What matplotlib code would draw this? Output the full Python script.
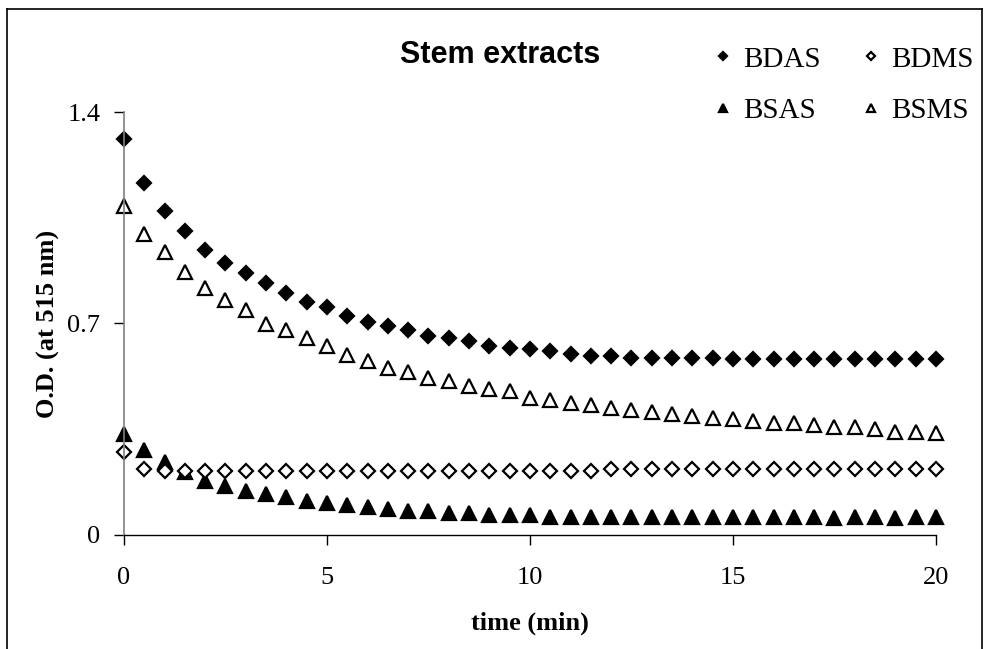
import numpy as np
import matplotlib
matplotlib.use("Agg")
import matplotlib.pyplot as plt
from matplotlib.lines import Line2D

# tiempo en minutos, cada 0.5 min
tiempo = np.arange(0, 20.5, 0.5)

bdas = [1.31, 1.166, 1.073, 1.007, 0.944, 0.901, 0.868, 0.834, 0.801, 0.772,
        0.755, 0.725, 0.705, 0.692, 0.679, 0.659, 0.653, 0.642, 0.627, 0.620,
        0.614, 0.609, 0.598, 0.594, 0.594, 0.587, 0.587, 0.587, 0.586, 0.586,
        0.582, 0.582, 0.582, 0.582, 0.582, 0.582, 0.582, 0.582, 0.582, 0.582, 0.582]
bdms = [0.276, 0.217, 0.212, 0.212, 0.212, 0.212, 0.212, 0.212, 0.212, 0.212,
        0.212, 0.212, 0.212, 0.212, 0.212, 0.212, 0.212, 0.212, 0.212, 0.212,
        0.212, 0.212, 0.212, 0.212, 0.217, 0.217, 0.217, 0.217, 0.217, 0.217,
        0.217, 0.217, 0.217, 0.217, 0.217, 0.217, 0.217, 0.217, 0.217, 0.217, 0.217]
bsas = [0.334, 0.281, 0.240, 0.207, 0.180, 0.163, 0.147, 0.136, 0.125, 0.114,
        0.107, 0.099, 0.094, 0.085, 0.079, 0.079, 0.072, 0.072, 0.066, 0.066,
        0.066, 0.061, 0.059, 0.059, 0.061, 0.061, 0.061, 0.061, 0.061, 0.061,
        0.061, 0.061, 0.061, 0.061, 0.061, 0.055, 0.061, 0.061, 0.055, 0.061, 0.061]
bsms = [1.089, 0.996, 0.936, 0.870, 0.817, 0.778, 0.745, 0.699, 0.677, 0.653,
        0.626, 0.596, 0.576, 0.553, 0.541, 0.521, 0.508, 0.493, 0.482, 0.475,
        0.455, 0.447, 0.436, 0.429, 0.420, 0.414, 0.407, 0.402, 0.395, 0.388,
        0.383, 0.377, 0.370, 0.370, 0.364, 0.359, 0.357, 0.350, 0.342, 0.342, 0.337]

# orden por columnas para que la leyenda quede: BDAS BDMS / BSAS BSMS
series = [
    ("BDAS", bdas, "D", "black", 7.5),
    ("BSAS", bsas, "^", "black", 10),
    ("BDMS", bdms, "D", "white", 7.5),
    ("BSMS", bsms, "^", "white", 10),
]

fig = plt.figure(figsize=(9.92, 6.49), dpi=100)
ax = fig.add_axes([0.125, 0.1757, 0.8185, 0.6517])

for nombre, valores, marca, relleno, tam in series:
    ax.plot(tiempo, valores, linestyle="none", marker=marca, markersize=tam,
            markerfacecolor=relleno, markeredgecolor="black", markeredgewidth=1.6,
            label=nombre, clip_on=False)

ax.set_xlim(0, 20)
ax.set_ylim(0, 1.4)
ax.set_xticks([0, 5, 10, 15, 20])
ax.set_yticks([0, 0.7, 1.4])
ax.set_yticklabels(["0", "0.7", "1.4"])
ax.spines["top"].set_visible(False)
ax.spines["right"].set_visible(False)
ax.spines["left"].set_color("#808080")
ax.spines["left"].set_linewidth(1.2)
ax.spines["bottom"].set_linewidth(1.0)
ax.tick_params(direction="out", length=7, width=1.0, labelsize=19, pad=10)
ax.tick_params(axis="x", pad=16)
for lab in ax.get_xticklabels() + ax.get_yticklabels():
    lab.set_family("Liberation Serif")

ax.set_xlabel("time (min)", fontsize=19, fontweight="bold", family="Liberation Serif", labelpad=16)
ax.set_ylabel("O.D. (at 515 nm)", fontsize=19, fontweight="bold", family="Liberation Serif", labelpad=5)

fig.text(0.504, 0.915, "Stem extracts", fontsize=22, fontweight="bold",
         family="Liberation Sans", ha="center", va="center")

leg = ax.legend(ncol=2, loc="upper right", bbox_to_anchor=(1.064, 1.19), frameon=False,
                prop={"family": "Liberation Serif", "size": 21}, markerscale=0.6,
                handlelength=0.6, handletextpad=0.4, columnspacing=1.4, labelspacing=0.85,
                borderpad=0)

# marco exterior
for xs, ys in [([0.007, 0.007], [0.0, 0.986]), ([0.007, 0.99], [0.986, 0.986]), ([0.99, 0.99], [0.0, 0.986])]:
    fig.add_artist(Line2D(xs, ys, color="black", linewidth=1.2, transform=fig.transFigure))

plt.savefig("out.png", dpi=100)
